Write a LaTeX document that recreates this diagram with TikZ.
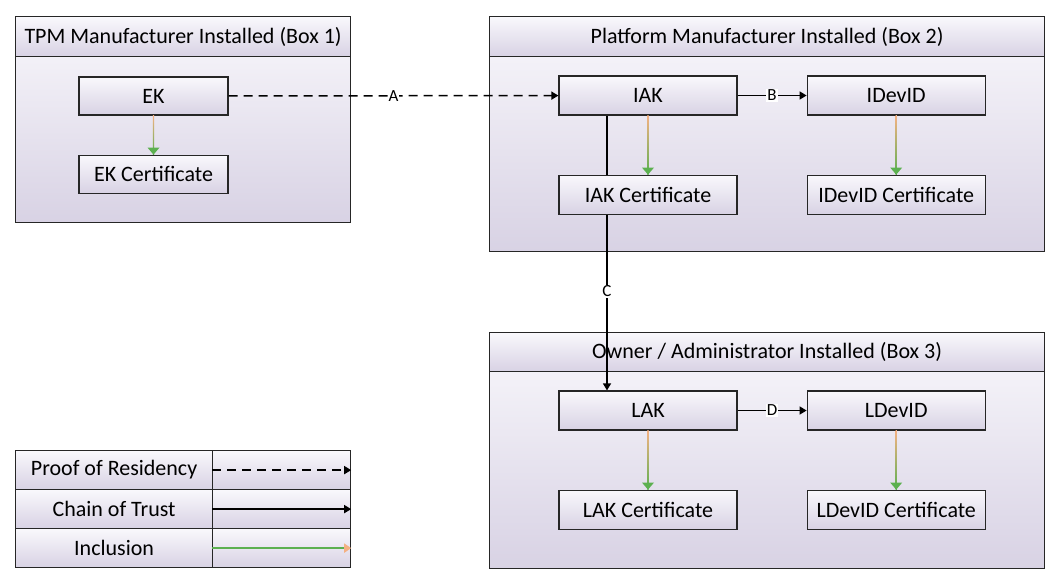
\documentclass[tikz,border=0pt]{standalone}
\usepackage{fontspec}
\setmainfont{Carlito}
\usepackage{tikz}
\usetikzlibrary{positioning,arrows.meta}
\definecolor{lavtop}{RGB}{249,248,252}
\definecolor{lavbot}{RGB}{216,210,228}
\definecolor{inkorange}{RGB}{244,177,131}
\definecolor{inkgreen}{RGB}{92,176,80}
\pgfdeclarelayer{frames}
\pgfdeclarelayer{links}
\pgfsetlayers{frames,links,main}
\newcommand{\inclusionarrow}[2]{%
    \shade[top color=inkorange, bottom color=inkgreen]
        ([xshift=-0.6pt]#1.south) rectangle ([xshift=0.6pt]#2.north);
    \fill[inkgreen] (#2.north) -- ++(-6pt,7pt) -- ++(12pt,0pt) -- cycle;
}

\begin{document}
\begin{tikzpicture}[
    x=1pt, y=-1pt,
    font=\fontsize{22}{26}\selectfont,
    group/.style={rectangle, draw=black!85, line width=1.2pt, top color=lavtop,
        bottom color=lavbot, inner sep=0pt, anchor=north west},
    header/.style={group, minimum height=40pt},
    item/.style={rectangle, draw=black!85, line width=1.2pt, top color=lavtop,
        bottom color=lavbot, minimum width=178pt, minimum height=39pt, inner sep=0pt,
        text centered, text=black},
    legcell/.style={item, minimum height=39pt, anchor=north west},
    lbl/.style={fill=white, inner sep=1pt, font=\fontsize{17}{20}\selectfont},
    trust/.style={draw=black, line width=1.5pt, -{Triangle[length=7pt,width=8pt]}},
    residency/.style={trust, dash pattern=on 9pt off 6pt}
]
\useasboundingbox (0,0) rectangle (1059,584);

% the three installation boxes
\begin{pgfonlayer}{frames}
\node (box1) [group, minimum width=335pt, minimum height=206pt] at (15,16) {};
\node (box1h) [header, minimum width=335pt] at (15,16) {TPM Manufacturer Installed (Box 1)};
\node (box2) [group, minimum width=555pt, minimum height=235pt] at (489,16) {};
\node (box2h) [header, minimum width=555pt] at (489,16) {Platform Manufacturer Installed (Box 2)};
\node (box3) [group, minimum width=555pt, minimum height=236pt] at (489,332) {};
\node (box3h) [header, minimum width=555pt, minimum height=39pt] at (489,332) {Owner / Administrator Installed (Box 3)};
\end{pgfonlayer}

% keys and certificates
\node (EK) [item, minimum width=149pt, minimum height=38pt] at (153.5,96) {EK};
\node (EKc) [item, minimum width=149pt, minimum height=38pt, below=39pt of EK] {EK Certificate};

\node (IAK) [item] at (648,95.5) {IAK};
\node (IAKc) [item, below=59pt of IAK] {IAK Certificate};
\node (IDevID) [item, right=69pt of IAK] {IDevID};
\node (IDevIDc) [item, below=59pt of IDevID] {IDevID Certificate};

\node (LAK) [item] at (648,410.5) {LAK};
\node (LAKc) [item, below=59pt of LAK] {LAK Certificate};
\node (LDevID) [item, right=69pt of LAK] {LDevID};
\node (LDevIDc) [item, below=59pt of LDevID] {LDevID Certificate};

% connectors
\draw[residency] (EK) -- node[lbl] {A} (IAK);
\draw[trust] (IAK) -- node[lbl] {B} (IDevID);
\begin{pgfonlayer}{links}
\draw[trust] ([xshift=-41pt]IAK.south) -- node[lbl, pos=0.64] {C} ([xshift=-41pt]LAK.north);
\end{pgfonlayer}
\draw[trust] (LAK) -- node[lbl] {D} (LDevID);

\inclusionarrow{EK}{EKc}
\inclusionarrow{IAK}{IAKc}
\inclusionarrow{IDevID}{IDevIDc}
\inclusionarrow{LAK}{LAKc}
\inclusionarrow{LDevID}{LDevIDc}

% legend
\node (leg1) [legcell, minimum width=197pt] at (15,450) {Proof of Residency};
\node (leg1r) [legcell, minimum width=138pt] at (212,450) {};
\node (leg2) [legcell, minimum width=197pt] at (15,489) {Chain of Trust};
\node (leg2r) [legcell, minimum width=138pt] at (212,489) {};
\node (leg3) [legcell, minimum width=197pt] at (15,528) {Inclusion};
\node (leg3r) [legcell, minimum width=138pt] at (212,528) {};

\draw[residency] (leg1r.west) -- (leg1r.east);
\draw[trust] (leg2r.west) -- (leg2r.east);
\draw[inkgreen, line width=1.5pt, -{Triangle[length=7pt,width=9pt,color=inkorange]}]
    (leg3r.west) -- (leg3r.east);

\end{tikzpicture}
\end{document}
